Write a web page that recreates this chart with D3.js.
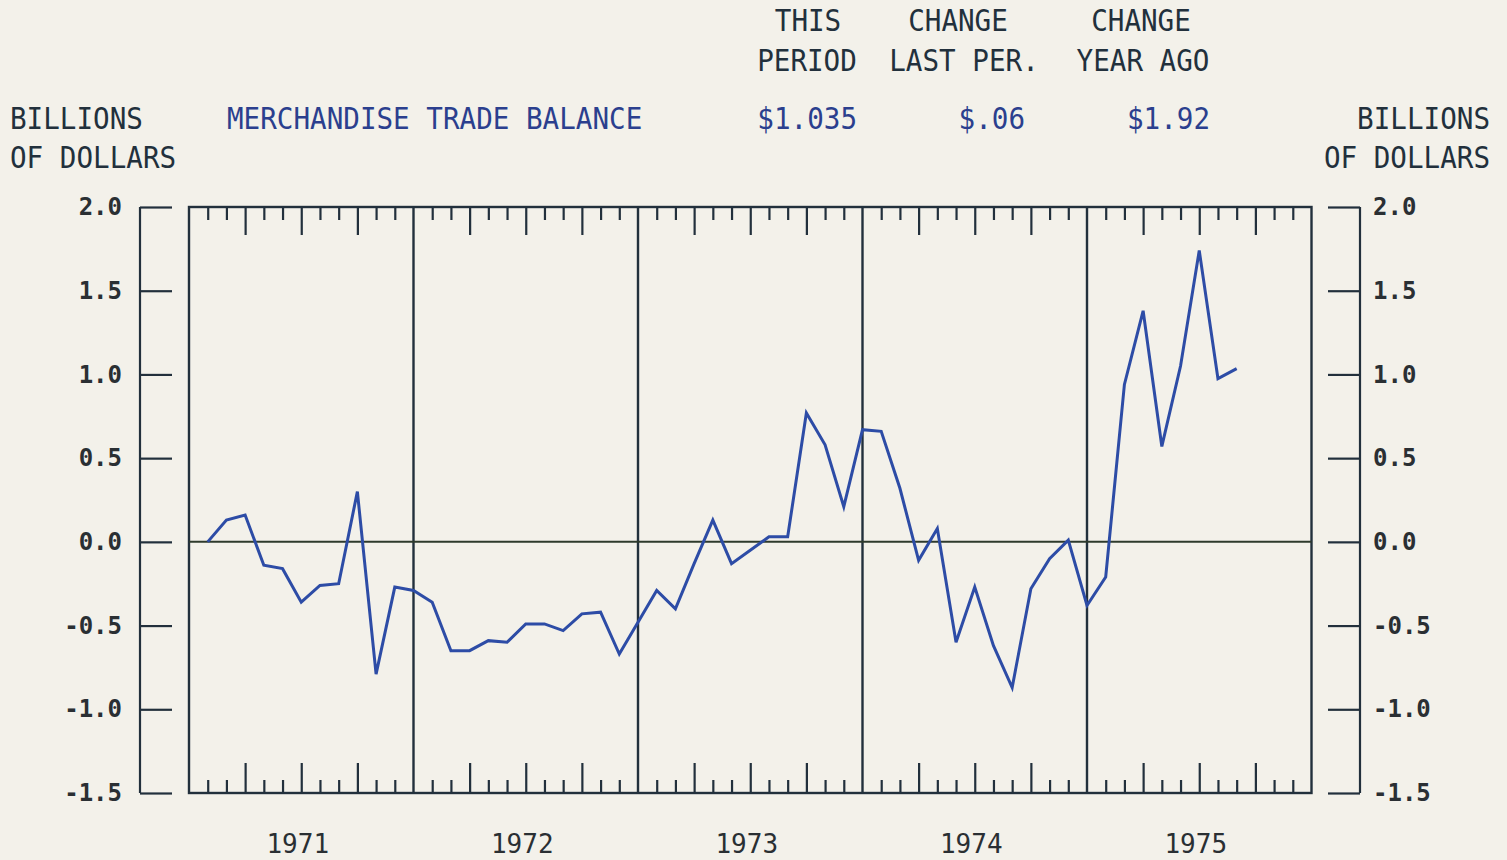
<!DOCTYPE html>
<html>
<head>
<meta charset="utf-8">
<script src="https://cdn.jsdelivr.net/npm/d3@7"></script>
<style>
  html, body { margin: 0; padding: 0; background: #f3f1ea; }
  svg { display: block; }
  text { font-family: "DejaVu Sans Mono", monospace; }
</style>
</head>
<body>
<svg id="chart" width="1507" height="860"></svg>
<script>
// monthly values, billions of dollars (month 1..12 of each year)
var years = [1971, 1972, 1973, 1974, 1975];
var values1971 = [0.00, 0.13, 0.16, -0.14, -0.16, -0.36, -0.26, -0.25, 0.30, -0.79, -0.27, -0.29];
var values1972 = [-0.36, -0.65, -0.65, -0.59, -0.60, -0.49, -0.49, -0.53, -0.43, -0.42, -0.67, -0.48];
var values1973 = [-0.29, -0.40, -0.13, 0.13, -0.13, -0.05, 0.03, 0.03, 0.77, 0.58, 0.21, 0.67];
var values1974 = [0.66, 0.32, -0.11, 0.08, -0.60, -0.27, -0.62, -0.87, -0.28, -0.10, 0.01, -0.38];
var values1975 = [-0.21, 0.94, 1.38, 0.57, 1.05, 1.74, 0.975, 1.035];
var yTicks = [2.0, 1.5, 1.0, 0.5, 0.0, -0.5, -1.0, -1.5];

var title = 'MERCHANDISE TRADE BALANCE';
var thisPeriod = '$1.035';
var changeLastPer = '$.06';
var changeYearAgo = '$1.92';

var ink = '#22303c';
var blue = '#2d4ca6';
var titleBlue = '#2b3f8e';
var labelInk = '#2a2f33';

var svg = d3.select('#chart');

var x = d3.scaleLinear().domain([1971, 1976]).range([189, 1311.5]);
var y = d3.scaleLinear().domain([-1.5, 2]).range([793, 207]);

var series = [];
[values1971, values1972, values1973, values1974, values1975].forEach(function(arr, i){
    arr.forEach(function(v, m){
        series.push({t: years[i] + (m + 1) / 12, v: v});
    });
});

// header texts (condensed plotter lettering)
var hdr = svg.append('g').attr('font-size', 30);
var addText = function(t, px, py, anchor, color){
    hdr.append('text')
        .attr('transform', 'translate(' + px + ',' + py + ') scale(0.92,1)')
        .attr('text-anchor', anchor || 'start')
        .attr('fill', color || ink).text(t);
};
addText('THIS', 808, 31, 'middle');
addText('PERIOD', 807, 71, 'middle');
addText('CHANGE', 958, 31, 'middle');
addText('LAST PER.', 964, 71, 'middle');
addText('CHANGE', 1141, 31, 'middle');
addText('YEAR AGO', 1143, 71, 'middle');
addText('BILLIONS', 10, 129);
addText('OF DOLLARS', 10, 168);
addText('BILLIONS', 1490, 129, 'end');
addText('OF DOLLARS', 1490, 168, 'end');
addText(title, 227, 129, 'start', titleBlue);
addText(thisPeriod, 857, 129, 'end', titleBlue);
addText(changeLastPer, 1025, 129, 'end', titleBlue);
addText(changeYearAgo, 1210, 129, 'end', titleBlue);

// left / right value axes
var fmt = function(d){ return d.toFixed(1); };
var leftAxis = svg.append('g').attr('transform', 'translate(172,0)')
    .call(d3.axisLeft(y).tickValues(yTicks).tickFormat(fmt).tickSize(32).tickSizeOuter(0).tickPadding(18));
var rightAxis = svg.append('g').attr('transform', 'translate(1328,0)')
    .call(d3.axisRight(y).tickValues(yTicks).tickFormat(fmt).tickSize(32).tickSizeOuter(0).tickPadding(13));
[leftAxis, rightAxis].forEach(function(g){
    g.select('.domain').remove();
    g.selectAll('line').attr('stroke', ink).attr('stroke-width', 2.2);
    g.selectAll('text').attr('font-family', '"DejaVu Sans Mono", monospace')
        .attr('font-size', 24).attr('font-weight', 600).attr('fill', labelInk);
});
svg.append('line').attr('x1', 140).attr('x2', 140).attr('y1', y(2)).attr('y2', y(-1.5))
    .attr('stroke', ink).attr('stroke-width', 2.2);
svg.append('line').attr('x1', 1360).attr('x2', 1360).attr('y1', y(2)).attr('y2', y(-1.5))
    .attr('stroke', ink).attr('stroke-width', 2.2);

// month ticks top and bottom
var months = d3.range(1, 60).filter(function(k){ return k % 12 !== 0; })
    .map(function(k){ return 1971 + k / 12; });
var isLong = function(d){ return Math.round((d - 1971) * 12) % 3 === 0; };

var topTicks = svg.append('g').attr('transform', 'translate(0,' + y(2) + ')')
    .call(d3.axisBottom(x).tickValues(months).tickSize(13).tickFormat(''));
topTicks.selectAll('.tick line').attr('y2', function(d){ return isLong(d) ? 28 : 13; });
var botTicks = svg.append('g').attr('transform', 'translate(0,' + y(-1.5) + ')')
    .call(d3.axisTop(x).tickValues(months).tickSize(13).tickFormat(''));
botTicks.selectAll('.tick line').attr('y2', function(d){ return isLong(d) ? -30 : -13; });
[topTicks, botTicks].forEach(function(g){
    g.select('.domain').remove();
    g.selectAll('line').attr('stroke', ink).attr('stroke-width', 2.2);
});

// year labels
var yearAxis = svg.append('g').attr('transform', 'translate(-4,' + (y(-1.5) + 39) + ')')
    .call(d3.axisBottom(x).tickValues(years.map(function(d){ return d + 0.5; }))
        .tickSize(0).tickFormat(function(d){ return String(Math.floor(d)); }));
yearAxis.select('.domain').remove();
yearAxis.selectAll('text').attr('font-family', '"DejaVu Sans Mono", monospace')
    .attr('font-size', 26).attr('fill', labelInk);

// box and year separators
svg.append('rect').attr('x', x(1971)).attr('y', y(2))
    .attr('width', x(1976) - x(1971)).attr('height', y(-1.5) - y(2))
    .attr('fill', 'none').attr('stroke', ink).attr('stroke-width', 2.4);
svg.selectAll('.yearLine').data([1972, 1973, 1974, 1975]).enter().append('line')
    .attr('class', 'yearLine')
    .attr('x1', function(d){ return x(d); }).attr('x2', function(d){ return x(d); })
    .attr('y1', y(2)).attr('y2', y(-1.5))
    .attr('stroke', ink).attr('stroke-width', 2.4);

// zero line
svg.append('line').attr('x1', x(1971)).attr('x2', x(1976))
    .attr('y1', y(0)).attr('y2', y(0))
    .attr('stroke', '#2e3a2c').attr('stroke-width', 2);

// data line
var line = d3.line().x(function(d){ return x(d.t); }).y(function(d){ return y(d.v); });
svg.append('path').datum(series).attr('d', line)
    .attr('fill', 'none').attr('stroke', blue).attr('stroke-width', 3)
    .attr('stroke-linejoin', 'miter');
</script>
</body>
</html>
